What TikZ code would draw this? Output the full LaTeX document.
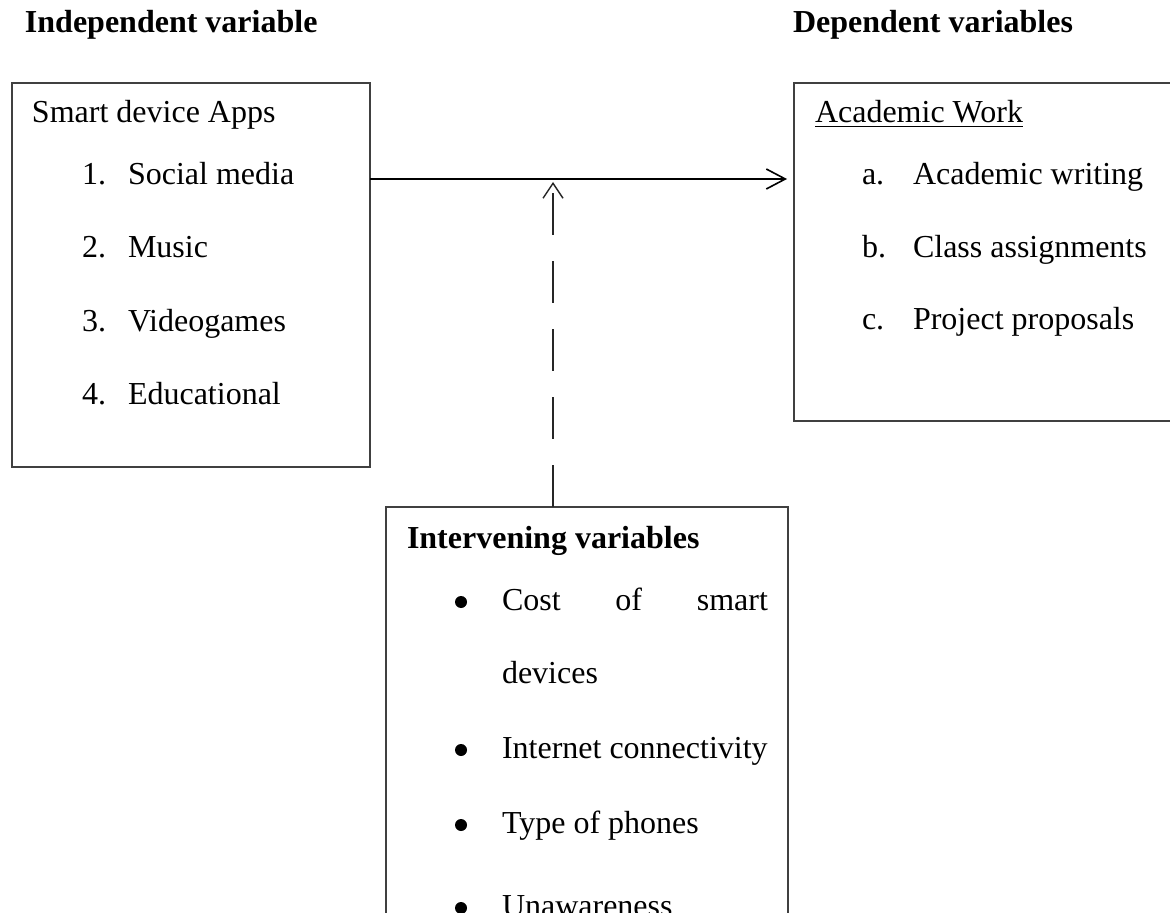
\documentclass[tikz,border=0pt]{standalone}
\usepackage{fontspec}
\setmainfont{Liberation Serif}
\usetikzlibrary{arrows.meta}
\begin{document}
\begin{tikzpicture}[
x=0.5pt, y=-0.5pt,
every node/.style={inner sep=0pt, outer sep=0pt, font=\fontsize{16}{19}\selectfont},
box/.style={draw=black!75, line width=0.65pt, rectangle, anchor=north west},
txt/.style={anchor=base west},
head/.style={anchor=base west, font=\fontsize{16}{19}\selectfont\bfseries},
dot/.style={circle, fill=black, minimum size=6pt},
link/.style={line width=0.8pt, -{Straight Barb[length=9.5pt, width=10pt]}},
dashlink/.style={draw=black!85, line width=0.7pt, dash pattern=on 21pt off 13pt,
  -{Straight Barb[length=7.5pt, width=10pt]}}
]
\clip (0,0) rectangle (1170,913);
\node[head] (indep) at (25,33) {Independent variable};
\node[head] (dep) at (793,33) {Dependent variables};
\node[box, minimum width=179pt, minimum height=192pt] (apps) at (12,83) {};
\node[box, minimum width=200pt, minimum height=169pt] (work) at (794,83) {};
\node[box, minimum width=201pt, minimum height=230pt] (inter) at (386,507) {};
\node[txt] (appstitle) at (32,123) {Smart device Apps};
\node[txt] (n1) at (82,185) {1.};
\node[txt] (social) at (128,185) {Social media};
\node[txt] (n2) at (82,258) {2.};
\node[txt] (music) at (128,258) {Music};
\node[txt] (n3) at (82,332) {3.};
\node[txt] (games) at (128,332) {Videogames};
\node[txt] (n4) at (82,405) {4.};
\node[txt] (edu) at (128,405) {Educational};
\node[txt] (worktitle) at (815,123) {\underline{Academic Work}};
\node[txt] (la) at (862,185) {a.};
\node[txt] (writing) at (913,185) {Academic writing};
\node[txt] (lb) at (862,258) {b.};
\node[txt] (assign) at (913,258) {Class assignments};
\node[txt] (lc) at (862,330) {c.};
\node[txt] (proposals) at (913,330) {Project proposals};
\node[head] (intertitle) at (407,548) {Intervening variables};
\node[dot] (b1) at (461,602) {};
\node[txt] (cost) at (502,610) {\makebox[133pt][s]{Cost of smart}};
\node[txt] (devices) at (502,683) {devices};
\node[dot] (b2) at (461,750) {};
\node[txt] (net) at (502,758) {Internet connectivity};
\node[dot] (b3) at (461,825) {};
\node[txt] (phones) at (502,833) {Type of phones};
\node[dot] (b4) at (461,908) {};
\node[txt] (unaware) at (502,916) {Unawareness};
\coordinate (hmid) at (553,179);
\draw[link, shorten >=3.5pt] (apps.east |- hmid) -- (work.west |- hmid);
\draw[dashlink, shorten >=1.5pt] (inter.north -| hmid) -- (hmid);
\end{tikzpicture}
\end{document}
